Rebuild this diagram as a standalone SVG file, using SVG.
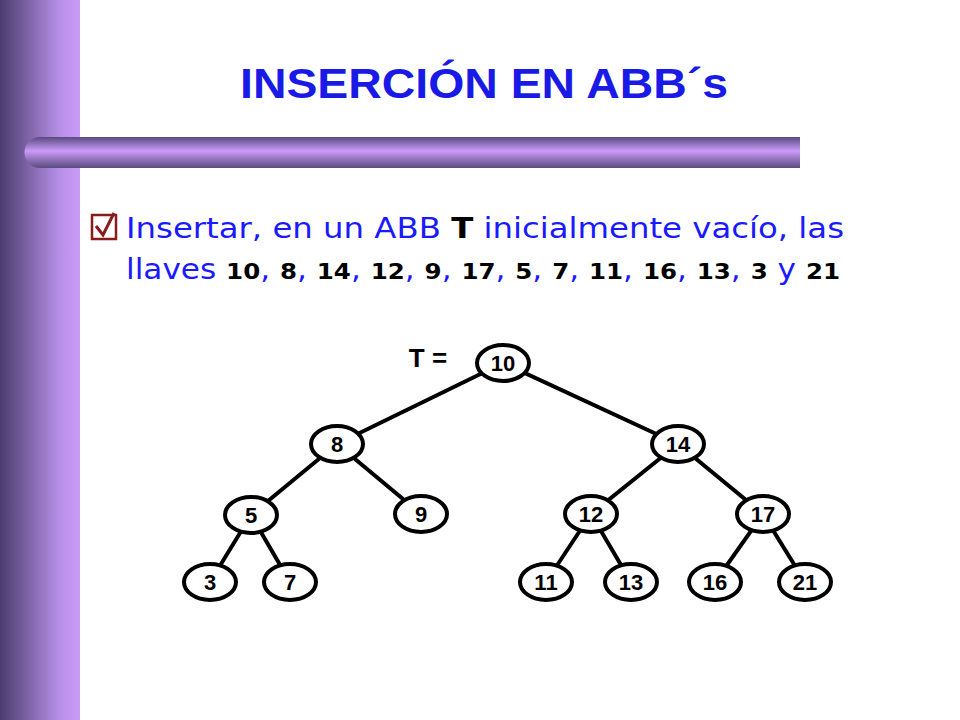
<svg xmlns="http://www.w3.org/2000/svg" width="960" height="720" viewBox="0 0 960 720">
<defs>
<linearGradient id="side" x1="0" x2="1" y1="0" y2="0">
<stop offset="0" stop-color="#4a3c6e"/><stop offset="0.75" stop-color="#b890e8"/><stop offset="1" stop-color="#c99cf8"/>
</linearGradient>
<linearGradient id="bar" x1="0" x2="0" y1="0" y2="1">
<stop offset="0" stop-color="#5a4a80"/><stop offset="0.45" stop-color="#c99cf8"/><stop offset="1" stop-color="#5a4a80"/>
</linearGradient>
<style>
.n ellipse{fill:#fff;stroke:#000;stroke-width:4}
.n text{font-family:"Liberation Sans",Arial,sans-serif;font-weight:bold;font-size:22px;text-anchor:middle;fill:#000}
.e line{stroke:#000;stroke-width:4}
.b{font-family:"DejaVu Sans",sans-serif;font-size:28px;fill:#1a1aff}
.k{fill:#000;font-weight:bold;font-size:22px}
</style>
</defs>
<rect width="960" height="720" fill="#fff"/>
<rect x="0" y="0" width="80" height="720" fill="url(#side)"/>
<path d="M40 137 H800 V168 H40 A15.5 15.5 0 0 1 40 137 Z" fill="url(#bar)"/>
<text x="240" y="98" font-family="Liberation Sans,Arial,sans-serif" font-weight="bold" font-size="42" fill="#1a1ae6" textLength="488" lengthAdjust="spacingAndGlyphs">INSERCIÓN EN ABB´s</text>
<rect x="92" y="215" width="24" height="24" fill="#fff" stroke="#8b1a1a" stroke-width="2.5"/>
<path d="M96 226 L103 235 L114 213" fill="none" stroke="#8b1a1a" stroke-width="3"/>
<text class="b" x="126" y="238" textLength="718" lengthAdjust="spacingAndGlyphs">Insertar, en un ABB <tspan fill="#000" font-weight="bold">T</tspan> inicialmente vacío, las</text>
<text class="b" x="126" y="279" textLength="714" lengthAdjust="spacingAndGlyphs">llaves <tspan class="k">10</tspan>, <tspan class="k">8</tspan>, <tspan class="k">14</tspan>, <tspan class="k">12</tspan>, <tspan class="k">9</tspan>, <tspan class="k">17</tspan>, <tspan class="k">5</tspan>, <tspan class="k">7</tspan>, <tspan class="k">11</tspan>, <tspan class="k">16</tspan>, <tspan class="k">13</tspan>, <tspan class="k">3</tspan> y <tspan class="k">21</tspan></text>
<text x="428" y="367" text-anchor="middle" font-family="Liberation Sans,Arial,sans-serif" font-weight="bold" font-size="26">T =</text>
<g class="e">
<line x1="503" y1="363" x2="337" y2="444"/><line x1="503" y1="363" x2="678" y2="444"/>
<line x1="337" y1="444" x2="251" y2="515"/><line x1="337" y1="444" x2="421" y2="514"/>
<line x1="678" y1="444" x2="591" y2="514"/><line x1="678" y1="444" x2="763" y2="514"/>
<line x1="251" y1="515" x2="210" y2="582"/><line x1="251" y1="515" x2="290" y2="582"/>
<line x1="591" y1="514" x2="546" y2="582"/><line x1="591" y1="514" x2="631" y2="582"/>
<line x1="763" y1="514" x2="715" y2="582"/><line x1="763" y1="514" x2="805" y2="582"/>
</g>
<g id="n10" class="n"><ellipse cx="503" cy="363" rx="26" ry="18"/><text x="503" y="371">10</text></g>
<g id="n8" class="n"><ellipse cx="337" cy="444" rx="26" ry="18"/><text x="337" y="452">8</text></g>
<g id="n14" class="n"><ellipse cx="678" cy="444" rx="26" ry="18"/><text x="678" y="452">14</text></g>
<g id="n5" class="n"><ellipse cx="251" cy="515" rx="26" ry="18"/><text x="251" y="523">5</text></g>
<g id="n9" class="n"><ellipse cx="421" cy="514" rx="26" ry="18"/><text x="421" y="522">9</text></g>
<g id="n12" class="n"><ellipse cx="591" cy="514" rx="26" ry="18"/><text x="591" y="522">12</text></g>
<g id="n17" class="n"><ellipse cx="763" cy="514" rx="26" ry="18"/><text x="763" y="522">17</text></g>
<g id="n3" class="n"><ellipse cx="210" cy="582" rx="26" ry="18"/><text x="210" y="590">3</text></g>
<g id="n7" class="n"><ellipse cx="290" cy="582" rx="26" ry="18"/><text x="290" y="590">7</text></g>
<g id="n11" class="n"><ellipse cx="546" cy="582" rx="26" ry="18"/><text x="546" y="590">11</text></g>
<g id="n13" class="n"><ellipse cx="631" cy="582" rx="26" ry="18"/><text x="631" y="590">13</text></g>
<g id="n16" class="n"><ellipse cx="715" cy="582" rx="26" ry="18"/><text x="715" y="590">16</text></g>
<g id="n21" class="n"><ellipse cx="805" cy="582" rx="26" ry="18"/><text x="805" y="590">21</text></g>
</svg>
